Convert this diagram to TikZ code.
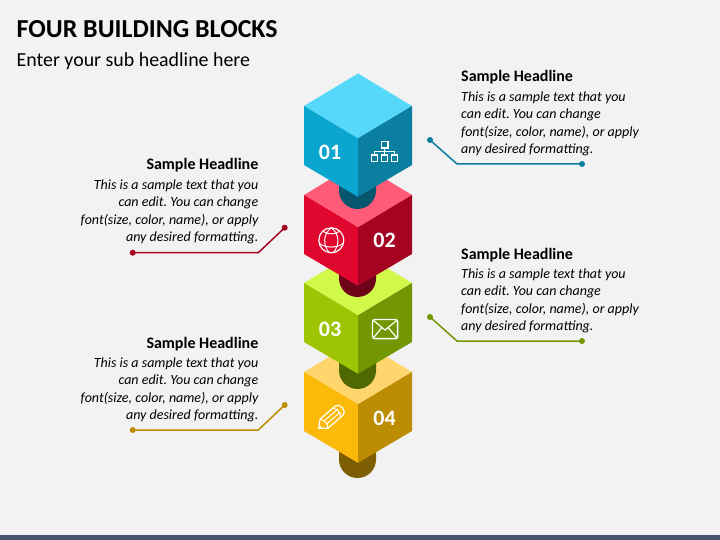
\documentclass[tikz,border=0pt]{standalone}
\usepackage{fontspec}
\setmainfont{Carlito}
\frenchspacing
\definecolor{bgc}{HTML}{F2F2F2}
\definecolor{barc}{HTML}{44546A}
\definecolor{topa}{HTML}{55D8FA}\definecolor{lefa}{HTML}{0BA6D0}\definecolor{riga}{HTML}{0A7FA0}\definecolor{pega}{HTML}{06566E}
\definecolor{topb}{HTML}{FF5A78}\definecolor{lefb}{HTML}{E1062E}\definecolor{rigb}{HTML}{A50322}\definecolor{pegb}{HTML}{6E0218}
\definecolor{topc}{HTML}{D2F94A}\definecolor{lefc}{HTML}{9EC504}\definecolor{rigc}{HTML}{739603}\definecolor{pegc}{HTML}{4F6802}
\definecolor{topd}{HTML}{FFD56D}\definecolor{lefd}{HTML}{FBB909}\definecolor{rigd}{HTML}{BC8C03}\definecolor{pegd}{HTML}{7D5E02}
\tikzset{
  x=1pt,y=-1pt,
  headr/.style={inner sep=0pt,anchor=base west,font=\fontsize{16}{18}\selectfont\bfseries,text=black},
  headl/.style={inner sep=0pt,anchor=base east,font=\fontsize{16}{18}\selectfont\bfseries,text=black},
  bodyr/.style={inner sep=0pt,anchor=north west,align=left,font=\fontsize{14}{17.3}\selectfont\itshape\frenchspacing,text=black},
  bodyl/.style={inner sep=0pt,anchor=north east,align=right,font=\fontsize{14}{17.3}\selectfont\itshape\frenchspacing,text=black},
  numtxt/.style={inner sep=0pt,font=\fontsize{22}{24}\selectfont\bfseries,text=white},
  leader/.style={line width=1.5pt},
  leaddot/.style={circle,inner sep=0pt,minimum size=6pt},
  icon/.style={draw=white,line width=1.2pt,fill=none},
  iconthick/.style={draw=white,line width=1.45pt,fill=none},
}
% #1 vertical offset, #2 letter, #3 centre height of the peg's round end
\newcommand{\cubeblock}[3]{%
  \begin{scope}[yshift=-#1pt]
  \fill[peg#2] (339,165) -- (376,165) -- (376,#3) arc[start angle=0,end angle=180,radius=18.5] -- cycle;
  \fill[top#2] (358,73.5) -- (412,106) -- (358,138.3) -- (304,106) -- cycle;
  \fill[lef#2] (304,106) -- (358,138.3) -- (358,196.8) -- (304,165) -- cycle;
  \fill[rig#2] (412,106) -- (358,138.3) -- (358,196.8) -- (412,165) -- cycle;
  \end{scope}}
\begin{document}
\begin{tikzpicture}
\useasboundingbox (0,0) rectangle (720,540);
\fill[bgc] (0,0) rectangle (720,540);
\fill[barc] (0,535) rectangle (720,540);
\node[inner sep=0pt,anchor=base west,font=\fontsize{25.9}{28}\selectfont\bfseries] (title) at (16.5,37.5) {FOUR BUILDING BLOCKS};
\node[inner sep=0pt,anchor=base west,font=\fontsize{19.9}{22}\selectfont] (subtitle) at (16.5,66.5) {Enter your sub headline here};
\cubeblock{266}{d}{193.5}
\cubeblock{177}{c}{193.5}
\cubeblock{89}{b}{189.5}
\cubeblock{0}{a}{190.5}
% numbers
\node[numtxt] (n1) at (330,152.5) {01};
\node[numtxt] (n2) at (384.5,240.5) {02};
\node[numtxt] (n3) at (330,329.5) {03};
\node[numtxt] (n4) at (384.5,418.5) {04};
% hierarchy icon
\draw[iconthick] (381.3,141.7) rectangle (388,148);
\draw[iconthick] (371.5,155) rectangle (377.5,161.5);
\draw[iconthick] (381.5,155) rectangle (387.7,161.5);
\draw[iconthick] (391.5,155) rectangle (397.5,161.5);
\draw[icon] (384.7,148) -- (384.7,155) (374.5,155) -- (374.5,151.5) -- (394.5,151.5) -- (394.5,155);
% globe icon
\begin{scope}[shift={(331.3,240.3)}]
\draw[icon] (0,0) circle[radius=12.5];
\draw[icon,line width=1pt] (-8.5,-9) .. controls (-3,-5.5) and (3,-5.5) .. (8.5,-9);
\draw[icon,line width=1pt] (-12,3) .. controls (-6,8) and (6,8) .. (12,3);
\draw[icon,line width=1pt] (0,-12.5) .. controls (-9,-6) and (-8,6) .. (-2,12.3);
\draw[icon,line width=1pt] (0,-12.5) .. controls (9,-6) and (8,6) .. (2,12.3);
\end{scope}
% envelope icon
\draw[iconthick,rounded corners=2.5pt] (372.5,319.5) rectangle (397.7,338.7);
\draw[icon] (373.5,320.5) -- (385,330) -- (396.7,320.5) (373.5,337.7) -- (381.5,328) (396.7,337.7) -- (388.5,328);
% pencil icon
\begin{scope}[shift={(318.7,428.3)},rotate=41]
\draw[icon,line join=round] (0,0) -- (7,-6) -- (27,-6) .. controls (33,-6) and (33,6) .. (27,6) -- (7,6) -- cycle;
\draw[icon,line width=1pt] (7,-6) .. controls (10,-2) and (10,2) .. (7,6);
\draw[icon,line width=1pt] (9.5,-2) -- (27,-2) (9.5,2) -- (27,2);
\draw[icon,line width=1pt] (24,-6) .. controls (27,-2) and (27,2) .. (24,6);
\fill[white] (2,0) circle[radius=1.2];
\end{scope}
% text blocks
\node[headr] (h1) at (461,82) {Sample Headline};
\node[bodyr] (b1) at (461,91.5) {This is a sample text that you\\can edit. You can change\\font(size, color, name), or apply\\any desired formatting.};
\node[headl] (h2) at (258.5,170) {Sample Headline};
\node[bodyl] (b2) at (258.5,179.5) {This is a sample text that you\\can edit. You can change\\font(size, color, name), or apply\\any desired formatting.};
\node[headr] (h3) at (461,259) {Sample Headline};
\node[bodyr] (b3) at (461,268.5) {This is a sample text that you\\can edit. You can change\\font(size, color, name), or apply\\any desired formatting.};
\node[headl] (h4) at (258.5,348) {Sample Headline};
\node[bodyl] (b4) at (258.5,357.5) {This is a sample text that you\\can edit. You can change\\font(size, color, name), or apply\\any desired formatting.};
% leaders
\node[leaddot,fill=riga] (d1a) at (430,140) {};
\node[leaddot,fill=riga] (d1b) at (582,164) {};
\coordinate (c1) at (457,164);
\draw[leader,riga] (d1a.center) -- (c1) -- (d1b.center);
\node[leaddot,fill=rigb] (d2a) at (284.7,227.7) {};
\node[leaddot,fill=rigb] (d2b) at (132.7,252.7) {};
\coordinate (c2) at (258.3,252.7);
\draw[leader,rigb] (d2a.center) -- (c2) -- (d2b.center);
\node[leaddot,fill=rigc] (d3a) at (430,317) {};
\node[leaddot,fill=rigc] (d3b) at (582,341) {};
\coordinate (c3) at (457,341);
\draw[leader,rigc] (d3a.center) -- (c3) -- (d3b.center);
\node[leaddot,fill=rigd] (d4a) at (284.7,405) {};
\node[leaddot,fill=rigd] (d4b) at (132.7,430) {};
\coordinate (c4) at (258.3,430);
\draw[leader,rigd] (d4a.center) -- (c4) -- (d4b.center);
\end{tikzpicture}
\end{document}
